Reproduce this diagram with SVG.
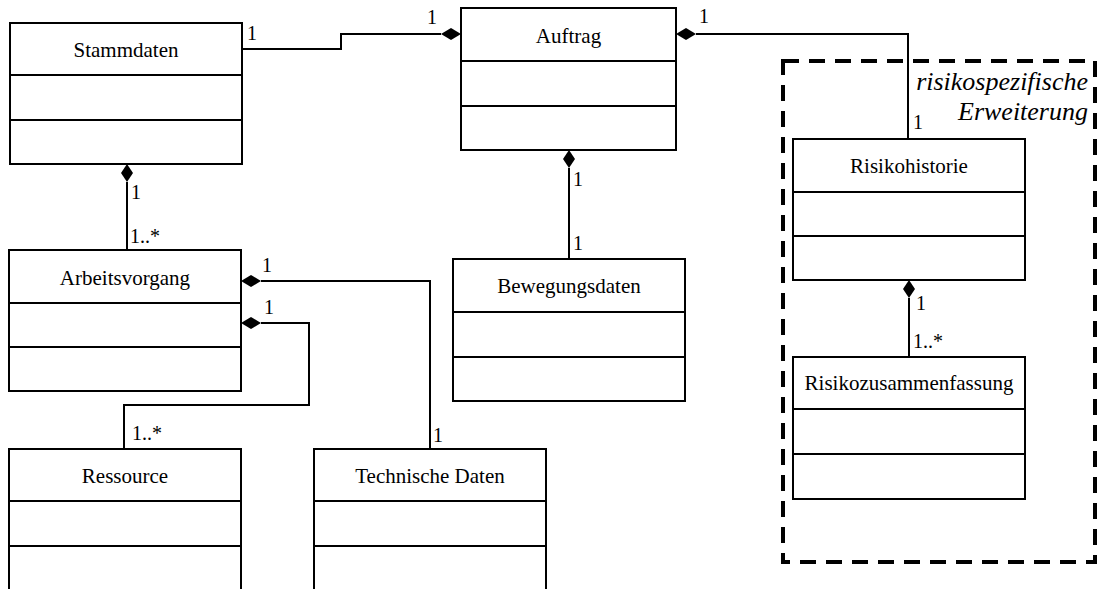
<svg xmlns="http://www.w3.org/2000/svg" width="1098" height="589" viewBox="0 0 1098 589">
<defs>
<style>
.box{fill:#fff;stroke:#000;stroke-width:2}
.div{stroke:#000;stroke-width:2}
text{font-family:'Liberation Serif','DejaVu Serif',serif}
.name{font-size:21px;text-anchor:middle;fill:#000}
.mult{font-size:20px;fill:#000}
.conn{fill:none;stroke:#000;stroke-width:2}
.dia{fill:#000;stroke:none}
.group{fill:none;stroke:#000;stroke-width:4;stroke-dasharray:16 10}
.note{font-size:26px;font-style:italic;text-anchor:end;fill:#000}
</style>
</defs>
<rect width="1098" height="589" fill="#fff"/>

<g id="extension">
<rect class="group" x="783" y="61" width="312" height="501"/>
<text class="note" x="1088" y="90">risikospezifische</text>
<text class="note" x="1088" y="120">Erweiterung</text>
</g>

<g id="connectors">
<polyline class="conn" points="242,49 341,49 341,34 441,34"/>
<polygon class="dia" points="441,34 451,28 461,34 451,40"/>
<polyline class="conn" points="696,34 908,34 908,139"/>
<polygon class="dia" points="676,34 686,28 696,34 686,40"/>
<line class="conn" x1="127" y1="182" x2="127" y2="250"/>
<polygon class="dia" points="127,164 133,173 127,182 121,173"/>
<line class="conn" x1="569" y1="168" x2="569" y2="259"/>
<polygon class="dia" points="569,150 575,159 569,168 563,159"/>
<polyline class="conn" points="261,281 430,281 430,449"/>
<polygon class="dia" points="241,281 251,275 261,281 251,287"/>
<polyline class="conn" points="261,323 309,323 309,405 124,405 124,449"/>
<polygon class="dia" points="241,323 251,317 261,323 251,329"/>
<line class="conn" x1="909" y1="298" x2="909" y2="357"/>
<polygon class="dia" points="909,280 915,289 909,298 903,289"/>
<text class="mult" x="247" y="40">1</text>
<text class="mult" x="427" y="24">1</text>
<text class="mult" x="699" y="23">1</text>
<text class="mult" x="913" y="129">1</text>
<text class="mult" x="131" y="199">1</text>
<text class="mult" x="130" y="243">1..*</text>
<text class="mult" x="573" y="186">1</text>
<text class="mult" x="573" y="250">1</text>
<text class="mult" x="262" y="272">1</text>
<text class="mult" x="264" y="314">1</text>
<text class="mult" x="132" y="440">1..*</text>
<text class="mult" x="433" y="442">1</text>
<text class="mult" x="916" y="310">1</text>
<text class="mult" x="913" y="348">1..*</text>
</g>

<g id="stammdaten">
<rect class="box" x="10" y="23" width="232" height="141"/>
<line class="div" x1="10" y1="75" x2="242" y2="75"/>
<line class="div" x1="10" y1="120" x2="242" y2="120"/>
<text class="name" x="126" y="57">Stammdaten</text>
</g>

<g id="auftrag">
<rect class="box" x="461" y="8" width="215" height="142"/>
<line class="div" x1="461" y1="61" x2="676" y2="61"/>
<line class="div" x1="461" y1="106" x2="676" y2="106"/>
<text class="name" x="568.5" y="43">Auftrag</text>
</g>

<g id="risikohistorie">
<rect class="box" x="793" y="139" width="232" height="141"/>
<line class="div" x1="793" y1="192" x2="1025" y2="192"/>
<line class="div" x1="793" y1="236" x2="1025" y2="236"/>
<text class="name" x="909" y="173">Risikohistorie</text>
</g>

<g id="risikozusammenfassung">
<rect class="box" x="793" y="357" width="232" height="142"/>
<line class="div" x1="793" y1="409" x2="1025" y2="409"/>
<line class="div" x1="793" y1="454" x2="1025" y2="454"/>
<text class="name" x="909" y="390">Risikozusammenfassung</text>
</g>

<g id="arbeitsvorgang">
<rect class="box" x="9" y="250" width="232" height="141"/>
<line class="div" x1="9" y1="303" x2="241" y2="303"/>
<line class="div" x1="9" y1="347" x2="241" y2="347"/>
<text class="name" x="125" y="285">Arbeitsvorgang</text>
</g>

<g id="bewegungsdaten">
<rect class="box" x="453" y="259" width="232" height="142"/>
<line class="div" x1="453" y1="312" x2="685" y2="312"/>
<line class="div" x1="453" y1="357" x2="685" y2="357"/>
<text class="name" x="569" y="293">Bewegungsdaten</text>
</g>

<g id="ressource">
<rect class="box" x="9" y="449" width="232" height="150"/>
<line class="div" x1="9" y1="501" x2="241" y2="501"/>
<line class="div" x1="9" y1="546" x2="241" y2="546"/>
<text class="name" x="125" y="483">Ressource</text>
</g>

<g id="technische-daten">
<rect class="box" x="314" y="449" width="232" height="150"/>
<line class="div" x1="314" y1="501" x2="546" y2="501"/>
<line class="div" x1="314" y1="546" x2="546" y2="546"/>
<text class="name" x="430" y="483">Technische Daten</text>
</g>
</svg>
